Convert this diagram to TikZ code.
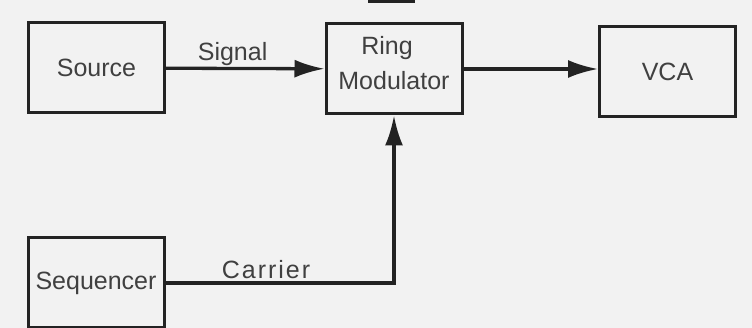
\documentclass[tikz,border=0pt]{standalone}
\usepackage{fontspec}
\setmainfont{Liberation Sans}
\usetikzlibrary{arrows.meta}
\definecolor{ink}{HTML}{232323}
\definecolor{txt}{HTML}{404040}
\definecolor{paper}{HTML}{F2F2F2}
\tikzset{
  blk/.style={draw=ink,line width=3pt,minimum width=136pt,minimum height=90pt,inner sep=0pt},
  wire/.style={draw=ink,line width=3.3pt},
  tip/.style={-{Latex[length=30pt,width=18pt]}}
}
\begin{document}
\begin{tikzpicture}[x=1pt,y=-1pt,every node/.style={text=txt,font=\fontsize{25}{35}\selectfont}]
\fill[paper] (0,0) rectangle (752,328);
\useasboundingbox (0,0) rectangle (752,328);
\begin{scope}
\clip (0,0) rectangle (752,328);
% blocks
\node[blk] (src) at (96.5,68) {Source};
\node[blk,label={[align=center,yshift=6pt]center:\hspace*{-14pt}Ring\\Modulator}] (ring) at (394,69) {};
\node[blk] (vca) at (667.5,71.5) {VCA};
\node[blk,inner xsep=3pt] (seq) at (96,283) {Sequencer};
% cut-off edge at the top
\fill[ink] (368,0) rectangle (415,3);
\end{scope}
% connections
\draw[wire,tip] (src) -- (ring) node[pos=0.42,above=-2pt] (sig) {Signal};
\draw[wire,tip] (ring.east) -- (ring.east -| vca.west);
\draw[wire,tip] (seq.east) -| (ring.south) node[pos=0.22,above=-1pt] (car) {\addfontfeature{LetterSpace=8}Carrier};
\end{tikzpicture}
\end{document}
